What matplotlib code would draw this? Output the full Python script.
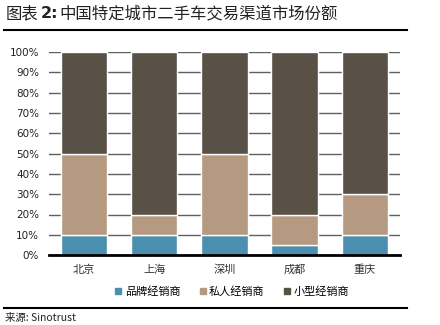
import matplotlib
matplotlib.use("Agg")
import matplotlib.pyplot as plt
from matplotlib.lines import Line2D
import numpy as np

plt.rcParams['font.family'] = ['Noto Sans CJK SC', 'DejaVu Sans']

cities = ["北京", "上海", "深圳", "成都", "重庆"]
brand = [10, 10, 10, 5, 10]
private = [40, 10, 40, 15, 20]
small = [50, 80, 50, 80, 70]
series_names = ["品牌经销商", "私人经销商", "小型经销商"]
colors = ["#4a8fb0", "#b59a81", "#595046"]
yticks = [0, 10, 20, 30, 40, 50, 60, 70, 80, 90, 100]

fig = plt.figure(figsize=(4.4, 3.25), dpi=100)
ax = fig.add_axes([0.111, 0.215, 0.798, 0.625])

x = np.arange(len(cities))
bottom = np.zeros(len(cities))
for vals, c in zip([brand, private, small], colors):
    ax.bar(x, vals, width=0.66, bottom=bottom, color=c, edgecolor="white",
           linewidth=1.0, zorder=3)
    bottom += np.array(vals)

ax.set_xlim(-0.5, 4.5)
ax.set_ylim(0, 100)
ax.set_yticks(yticks)
ax.set_yticklabels([f"{v}%" for v in yticks], fontsize=7.5, color="#222222",
                   family="DejaVu Sans")
ax.yaxis.grid(True, color="#606060", linewidth=1.0, zorder=0)
ax.set_xticks(x)
ax.set_xticklabels(cities, fontsize=8, color="#333333")
ax.tick_params(axis="both", length=0, pad=7)
for s in ["top", "right", "left"]:
    ax.spines[s].set_visible(False)
ax.spines["bottom"].set_color("black")
ax.spines["bottom"].set_linewidth(2.0)
ax.spines["bottom"].set_zorder(4)

handles = [Line2D([0], [0], marker="s", linestyle="none", markersize=4,
                  markerfacecolor=c, markeredgecolor=c) for c in colors]
fig.legend(handles, series_names, loc="center", bbox_to_anchor=(0.526, 0.103),
           ncol=3, frameon=False, fontsize=8, handletextpad=0.2,
           columnspacing=1.6, handlelength=0.8)

fig.text(0.012, 0.957, "图表", fontsize=11.8, color="#222222", va="center")
fig.text(0.093, 0.957, "2:", fontsize=11.5, color="#222222", va="center",
         fontweight="bold", family="DejaVu Sans")
fig.text(0.136, 0.957, "中国特定城市二手车交易渠道市场份额", fontsize=11.8,
         color="#222222", va="center")

fig.add_artist(Line2D([0.009, 0.925], [0.908, 0.908], color="black",
                      linewidth=1.5, transform=fig.transFigure))
fig.add_artist(Line2D([0.009, 0.925], [0.052, 0.052], color="black",
                      linewidth=1.5, transform=fig.transFigure))
fig.text(0.012, 0.022, "来源: Sinotrust", fontsize=7.5, color="#222222",
         va="center")

fig.savefig("out.png", dpi=100, facecolor="white")
